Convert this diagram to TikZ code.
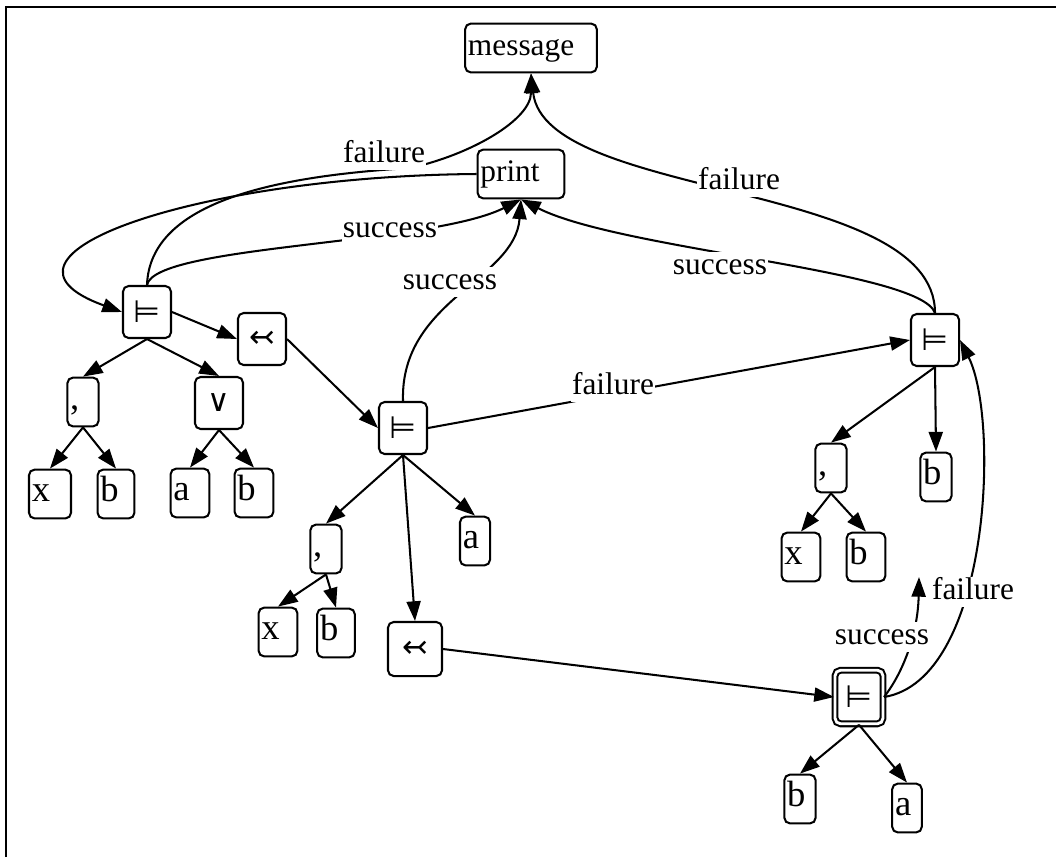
\documentclass[tikz,border=0pt]{standalone}
\usepackage{fontspec}
\setmainfont{Liberation Serif}
\newfontfamily\symfont{DejaVu Sans}
\usetikzlibrary{arrows.meta}

\begin{document}
\begin{tikzpicture}[x=0.025cm,y=-0.025cm,line width=1.45pt,
  every node/.style={font=\fontsize{22.3}{26}\selectfont},
  box/.style={draw,rounded corners=4pt,inner xsep=2pt,text height=11pt,text depth=0pt,
    minimum height=1.22cm,align=left},
  leaf/.style={box,text width=#1,font=\fontsize{26}{30}\selectfont},
  leaf/.default=0.78cm,
  op/.style={draw,rounded corners=4pt,minimum width=1.2cm,minimum height=1.3cm,
    font=\symfont\fontsize{22}{26}\selectfont},
  arr/.style={-{Triangle[length=14pt,width=10pt]}},
  lbl/.style={fill=white,inner sep=1pt,text height=15pt,text depth=4pt}]

\useasboundingbox (0,0) rectangle (1056,857);
\draw (6,857) -- (6,7) -- (1056,7);

\node[box,text width=3.15cm] (message) at (531,48) {message};
\node[box,text width=2.03cm] (print) at (521,174) {print};

\node[op] (lsat) at (147,312) {⊨};
\node[op] (lgen) at (262,339) {↢};
\node[leaf=0.64cm] (lpair) at (83,402) {,};
\node[op] (lor) at (219,403) {∨};
\node[leaf=0.91cm] (lx) at (50,494) {x};
\node[leaf] (lb1) at (116,494) {b};
\node[leaf=0.83cm] (la) at (190,493) {a};
\node[leaf=0.83cm] (lb2) at (254,493) {b};

\node[op] (msat) at (403,428) {⊨};
\node[leaf=0.64cm] (mpair) at (326,549) {,};
\node[leaf=0.61cm] (ma) at (475,541) {a};
\node[leaf=0.83cm] (mx) at (278,632) {x};
\node[leaf=0.8cm] (mb) at (336,633) {b};
\node[op,minimum width=1.35cm,minimum height=1.35cm] (mgen) at (415,649) {↢};

\node[op] (rsat) at (935,340) {⊨};
\node[leaf=0.64cm] (rpair) at (831,468) {,};
\node[leaf=0.64cm] (rb1) at (936,477) {b};
\node[leaf=0.83cm] (rx) at (801,557) {x};
\node[leaf=0.83cm] (rb2) at (866,557) {b};

\node[op,double,double distance=2pt,minimum height=1.34cm] (gsat) at (859,697) {⊨};
\node[leaf=0.64cm] (gb) at (800,799) {b};
\node[leaf=0.6cm] (ga) at (907,808) {a};
\coordinate (up) at (919,577);

\draw[arr] (lsat.east) -- (lgen.west);
\draw[arr] (lsat.south) -- (lpair.north);
\draw[arr] (lsat.south) -- (lor.north);
\draw[arr] (lpair.south) -- (lx.north);
\draw[arr] (lpair.south) -- (lb1.north);
\draw[arr] (lor.south) -- (la.north);
\draw[arr] (lor.south) -- (lb2.north);
\draw[arr] (lgen.east) -- (msat.west);

\draw[arr] (msat.south) -- (mpair.north);
\draw[arr] (msat.south) -- (ma.north);
\draw[arr] (msat.south) -- (mgen.north);
\draw[arr] (mpair.south) -- (mx.north);
\draw[arr] (mpair.south) -- (mb.north);
\draw[arr] (mgen.east) -- (gsat.west);

\draw[arr] (rsat.south) -- (rpair.north);
\draw[arr] (rsat.south) -- (rb1.north);
\draw[arr] (rpair.south) -- (rx.north);
\draw[arr] (rpair.south) -- (rb2.north);
\draw[arr] (gsat.south) -- (gb.north);
\draw[arr] (gsat.south) -- (ga.north);

\draw[arr] (lsat.north) .. controls (150,200) and (280,176) .. (410,168)
  .. controls (470,155) and (531,120) .. (message.south);
\draw[arr] (lsat.north) .. controls (155,245) and (430,245) .. (print.south);
\draw[arr] (msat.north) .. controls (400,300) and (515,280) .. (print.south);
\draw[arr] (rsat.north) .. controls (920,270) and (620,250) .. (print.south);
\draw[arr] (rsat.north) .. controls (935,180) and (545,200) .. (message.south);
\draw[arr] (msat.east) -- (rsat.west);
\draw[arr] (gsat.east) .. controls (990,680) and (1000,420) .. (rsat.east);
\draw[arr] (gsat.east) .. controls (905,670) and (918,630) .. (up);

\node[lbl] (f1) at (384,155) {failure};
\node[lbl] (s1) at (390,230) {success};
\node[lbl] (s2) at (450,282) {success};
\node[lbl] (f2) at (739,182) {failure};
\node[lbl] (s3) at (720,267) {success};
\node[lbl] (f3) at (613,387) {failure};
\node[lbl] (f4) at (973,592) {failure};
\node[lbl] (s4) at (882,637) {success};

\draw[arr] (print.west) .. controls (200,176) and (-35,255) .. (lsat.west);

\end{tikzpicture}
\end{document}
